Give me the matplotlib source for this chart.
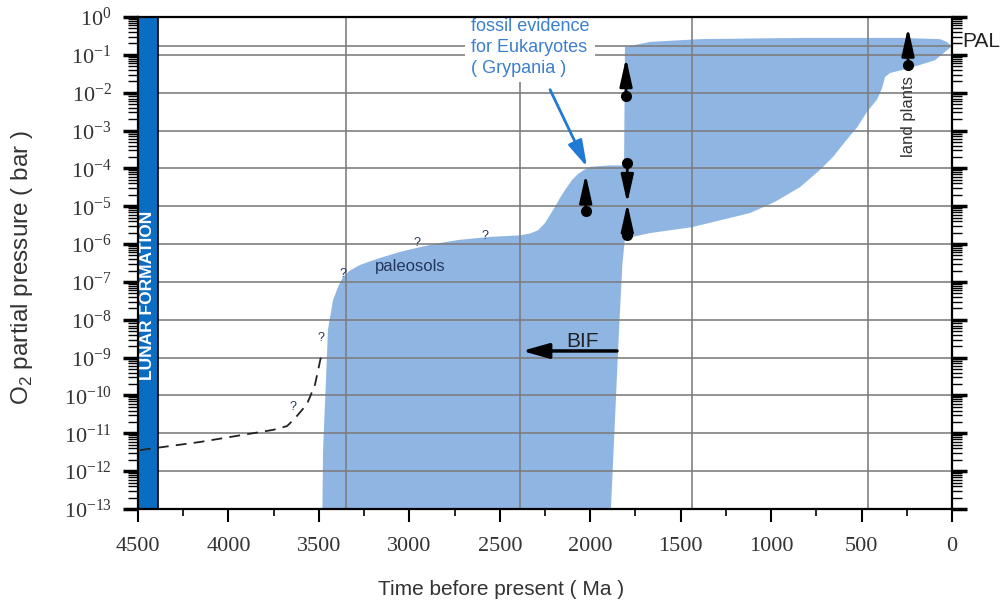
import numpy as np
import matplotlib.pyplot as plt
from matplotlib.ticker import LogLocator, MultipleLocator, FuncFormatter, NullFormatter

# Envelope of atmospheric O2 through Earth history (time in Ma, pressure in bar)
upper_ma = [3483, 3477, 3461, 3450, 3422, 3394, 3367, 3328, 3273, 3217, 3162,
            3052, 2941, 2830, 2720, 2554, 2388, 2333, 2289, 2250, 2222, 2195,
            2167, 2139, 2101, 2068, 2034, 2001, 1891, 1813, 1808, 1670, 1393,
            840, 287, 66, 30, 0]
upper_o2 = [1e-14, 3.6e-12, 2.5e-10, 5.4e-9, 3.3e-8, 7.4e-8, 1.35e-7, 2.0e-7,
            2.8e-7, 3.5e-7, 4.3e-7, 6.2e-7, 8.3e-7, 1.07e-6, 1.3e-6, 1.55e-6,
            1.7e-6, 1.9e-6, 2.3e-6, 3.6e-6, 5.9e-6, 9.6e-6, 1.66e-5, 2.7e-5,
            4.9e-5, 7.1e-5, 9.1e-5, 1.1e-4, 1.2e-4, 1.2e-4, 0.16, 0.22, 0.26,
            0.28, 0.28, 0.26, 0.22, 0.17]
lower_ma = [0, 94, 232, 343, 370, 387, 415, 470, 525, 592, 658, 730, 840, 979,
            1117, 1437, 1670, 1808, 1822, 1838, 1862, 1895]
lower_o2 = [0.17, 0.072, 0.045, 0.033, 0.026, 0.013, 6.5e-3, 3.1e-3, 1.2e-3,
            5.0e-4, 2.0e-4, 9.1e-5, 3.2e-5, 1.3e-5, 6.6e-6, 2.8e-6, 1.95e-6,
            1.4e-6, 3e-7, 1e-8, 3e-11, 1e-14]

# early (pre-3.5 Ga) estimate, dashed
early_ma = [4489, 4157, 3754, 3676, 3632, 3566, 3522, 3483]
early_o2 = [3.6e-12, 5.9e-12, 1.23e-11, 1.55e-11, 2.5e-11, 5.9e-11, 1.9e-10, 1.4e-9]

# question marks along the curve
query_ma = [3643, 3488, 3367, 2958, 2582]
query_o2 = [4.9e-11, 3.3e-9, 1.6e-7, 1.1e-6, 1.6e-6]

# constraint arrows: (time, start, end)
arrow_ma = [2025, 1802, 1795, 1795, 243]
arrow_from = [7.5e-6, 8.0e-3, 1.4e-4, 1.7e-6, 0.054]
arrow_to = [7.0e-5, 0.083, 1.2e-5, 1.2e-5, 0.53]

lunar_ma = [4500, 4390]
pal_o2 = 0.17
bif_ma = [1852, 2377]
bif_o2 = 1.5e-9

plt.rcParams['font.family'] = ['Liberation Sans', 'DejaVu Sans']

fig = plt.figure(figsize=(10.06, 6.09), dpi=100)
ax = fig.add_axes([0.1372, 0.1642, 0.8091, 0.8079])
ax.set_yscale('log')
ax.set_xlim(4500, 0)
ax.set_ylim(1e-13, 1)

# shaded envelope
env_x = upper_ma + lower_ma
env_y = upper_o2 + lower_o2
ax.fill(env_x, env_y, facecolor='#8fb6e3', edgecolor='none', zorder=1)

# grid: decades, present level, and the vertical rules
grid_kw = dict(color='#7d7d7d', lw=1.3, alpha=0.9, zorder=2)
for v in 10.0 ** np.arange(-12, 0):
    ax.axhline(v, **grid_kw)
ax.axhline(pal_o2, **grid_kw)
for t in [3350, 2390, 1440, 465]:
    ax.axvline(t, **grid_kw)

# lunar formation band
ax.axvspan(lunar_ma[0], lunar_ma[1], facecolor='#0b6dc2', edgecolor='black',
           lw=1.2, zorder=3)
ax.text(np.mean(lunar_ma), 4.5e-8, 'LUNAR FORMATION', rotation=90, color='white',
        fontsize=12.5, fontweight='bold', ha='center', va='center', zorder=4)

ax.plot(early_ma, early_o2, color='#222222', lw=1.3, ls=(0, (6, 4)), zorder=4)
for t, v in zip(query_ma, query_o2):
    ax.text(t, v, '?', fontsize=9, color='#24365c', ha='center', va='center', zorder=4)

ax.text(2996, 2.5e-7, 'paleosols', fontsize=12, color='#24365c', ha='center',
        va='center', zorder=4)

# banded iron formations
ax.annotate('', xy=(bif_ma[1], bif_o2), xytext=(bif_ma[0], bif_o2),
            arrowprops=dict(arrowstyle='-|>,head_length=1.6,head_width=0.45',
                            color='black', lw=2.5, shrinkA=0, shrinkB=0), zorder=4)
ax.text(2040, 2.6e-9, 'BIF', fontsize=15, color='#222222', ha='center',
        va='center', zorder=4)

for t, a, b in zip(arrow_ma, arrow_from, arrow_to):
    ax.annotate('', xy=(t, b), xytext=(t, a),
                arrowprops=dict(arrowstyle='-|>,head_length=1.7,head_width=0.38',
                                color='black', lw=2, shrinkA=0, shrinkB=0), zorder=5)
    ax.plot(t, a, 'o', color='black', ms=7, zorder=5)

ax.text(243, 2.3e-3, 'land plants', rotation=90, fontsize=12, color='#333333',
        ha='center', va='center', zorder=4)
ax.text(-55, 0.23, 'PAL', fontsize=15, color='#222222', ha='left', va='center',
        clip_on=False)

ax.text(2660, 0.95, 'fossil evidence\nfor Eukaryotes\n( Grypania )', fontsize=13,
        color='#3b7fcf', ha='left', va='top', linespacing=1.3, zorder=6,
        bbox=dict(facecolor='white', edgecolor='none', pad=4))
ax.annotate('', xy=(2018, 1.1e-4), xytext=(2222, 1.2e-2),
            arrowprops=dict(arrowstyle='-|>,head_length=1.6,head_width=0.45',
                            color='#1f7ad4', lw=2, shrinkA=0, shrinkB=0), zorder=6)

# axes
for s in ax.spines.values():
    s.set_linewidth(1.6)
    s.set_zorder(7)

ax.xaxis.set_major_locator(MultipleLocator(500))
ax.xaxis.set_minor_locator(MultipleLocator(250))
ax.yaxis.set_major_locator(LogLocator(base=10, numticks=20))
ax.yaxis.set_minor_locator(LogLocator(base=10, subs=np.arange(2, 10), numticks=20))
ax.yaxis.set_minor_formatter(NullFormatter())
ax.yaxis.set_major_formatter(FuncFormatter(
    lambda v, p: r'$\mathregular{10^{%d}}$' % round(np.log10(v))))

ax.tick_params(axis='x', which='major', direction='out', length=9, width=1.5,
               pad=11, labelsize=16, labelcolor='#333333')
ax.tick_params(axis='x', which='minor', direction='out', length=5, width=1.2)
ax.tick_params(axis='y', which='major', direction='out', length=11, width=2.5,
               pad=8, labelsize=16, labelcolor='#333333', right=True)
ax.tick_params(axis='y', which='minor', direction='out', length=7, width=1,
               right=True)
for lab in ax.get_xticklabels() + ax.get_yticklabels():
    lab.set_family('Liberation Serif')

ax.set_xlabel('Time before present ( Ma )', fontsize=15, color='#333333')
ax.set_ylabel(r'O$_\mathregular{2}$ partial pressure ( bar )', fontsize=17.5,
              color='#333333')
ax.xaxis.set_label_coords(0.446, -0.145)
ax.yaxis.set_label_coords(-0.126, 0.49)

fig.savefig('out.png', dpi=100)
